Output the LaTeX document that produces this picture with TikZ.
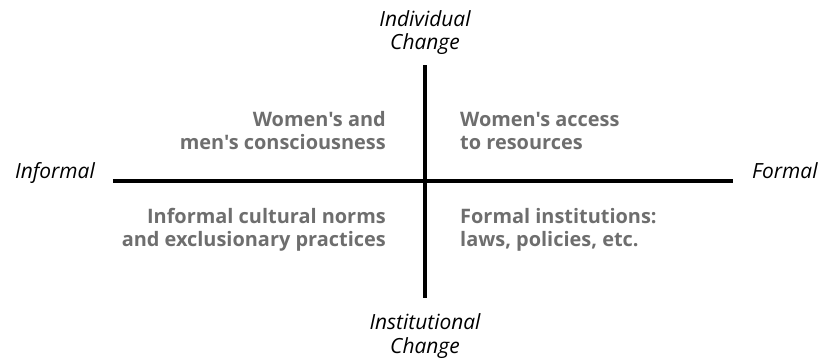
\documentclass[tikz,border=0pt]{standalone}
\usepackage{fontspec}
\setmainfont{Open Sans}[Ligatures=TeXOff]
\usetikzlibrary{positioning}
\definecolor{QuadGray}{RGB}{110,110,110}

\begin{document}
\begin{tikzpicture}[x=1bp, y=1bp,
    every node/.style={inner sep=0pt, align=center},
    axis/.style={line width=4bp, black},
    pole/.style={font=\fontsize{21}{23.5}\selectfont\itshape},
    quad/.style={font=\fontsize{20}{22.5}\selectfont\bfseries, text=QuadGray}]
  \useasboundingbox (-425,-179) rectangle (393,181);
  % axis ends
  \coordinate (up) at (0,116);
  \coordinate (down) at (0,-117);
  \coordinate (left) at (-312,0);
  \coordinate (right) at (308,0);
  \draw[axis] (up) -- (down);
  \draw[axis] (left) -- (right);
  % pole labels (base sits on the last line)
  \node[pole, anchor=base] (indiv) at (0,131.5) {Individual\\Change};
  \node[pole, anchor=base] (instit) at (0,-172) {Institutional\\Change};
  \node[pole, anchor=base east] (informal) at (-330,3) {Informal};
  \node[pole, anchor=base west] (formal) at (327,3) {Formal};
  % quadrants
  \node[quad, align=right, anchor=base east] (consc) at (-39,32) {Women's and\\men's consciousness};
  \node[quad, align=left, anchor=base west] (access) at (35,32) {Women's access\\to resources};
  \node[quad, align=right, anchor=base east] (norms) at (-39,-65) {Informal cultural norms\\and exclusionary practices};
  \node[quad, align=left, anchor=base west] (instns) at (35,-65) {Formal institutions:\\laws, policies, etc.};
\end{tikzpicture}
\end{document}
